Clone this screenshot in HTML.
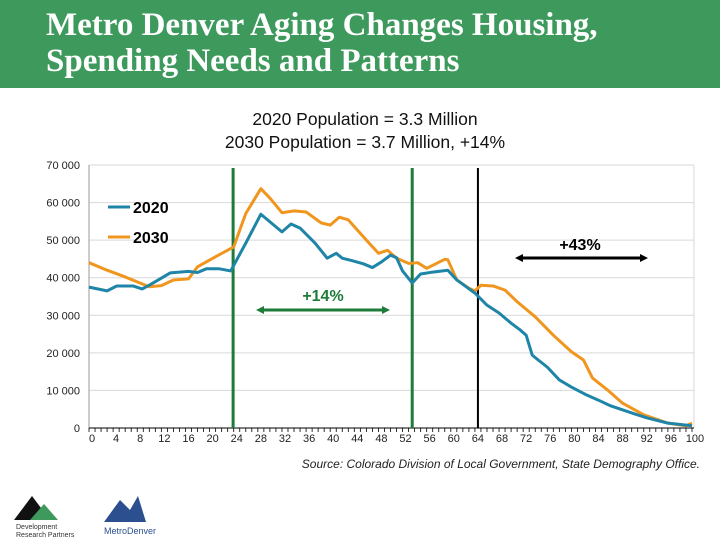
<!DOCTYPE html>
<html><head><meta charset="utf-8"><style>
body{margin:0;width:720px;height:540px;background:#fff;overflow:hidden;position:relative;font-family:"Liberation Sans",sans-serif}
#hdr{position:absolute;left:0;top:0;width:720px;height:88px;background:#3d9a5c}
#title{position:absolute;left:46px;top:7px;color:#fff;font-family:"Liberation Serif",serif;font-weight:bold;font-size:33px;line-height:36px;white-space:nowrap}
#sub{position:absolute;left:0;width:730px;top:108px;text-align:center;font-size:17.5px;line-height:23px;color:#111}
#src{position:absolute;right:20px;top:457px;font-size:12px;font-style:italic;color:#222}
</style></head><body>
<div id="hdr"></div>
<div id="title">Metro Denver Aging Changes Housing,<br>Spending Needs and Patterns</div>
<div id="sub">2020 Population = 3.3 Million<br>2030 Population = 3.7 Million, +14%</div>
<div id="src">Source: Colorado Division of Local Government, State Demography Office.</div>
<svg width="720" height="540" style="position:absolute;left:0;top:0" id="chart">
<g>
<polygon points="14,520 32,496 50,520" fill="#111"/><polygon points="30,520 44,504 58,520" fill="#3d9a5c"/>
<text x="16" y="529" font-size="7" fill="#333">Development</text><text x="16" y="537" font-size="7" fill="#333">Research Partners</text></g>
<g>
<polygon points="104,522 120,500 130,510 138,496 146,522" fill="#2b4f8f"/>
<text x="104" y="534" font-size="9" fill="#2b4f8f">MetroDenver</text></g>
</svg>
<script>
const yTicks=[0,10000,20000,30000,40000,50000,60000,70000];
const xTicks=[0,4,8,12,16,20,24,28,32,36,40,44,48,52,56,60,64,68,72,76,80,84,88,92,96,100];
const ages2020=[0,3,4.6,7.3,8.8,10,13.5,16.5,18,19.5,21.5,23.5,26,28.5,32,33.5,35,37.5,39.5,41,42,43.5,45.5,47,48.5,50,51,52,53.6,55,57,59.5,61,64,66,68,70,71.5,72.5,73.5,74.5,76,78,80,82.5,84.5,86.5,90,92.5,96,100];
const pop2020=[37500,36500,37800,37800,37000,38000,41300,41700,41400,42400,42400,41800,49200,56900,52200,54300,53200,49200,45200,46500,45200,44600,43700,42700,44200,46000,45300,41800,38600,41000,41500,42000,39400,35900,32700,30600,27900,26100,24700,19400,18100,16200,12800,10900,8800,7400,5900,4000,2700,1300,600];
const ages2030=[0,3,6,8,10,12,14,16.5,18,21,24,26,28.5,30,32,34,36,38.5,40,41.5,43,46,48,49.5,51,53,54.5,56,59,59.5,61,63,64,65,67,69,71,74,77,80,82,83.5,86,88.5,92,96,99,100];
const pop2030=[44000,42000,40200,38900,37600,37900,39400,39700,42900,45600,48200,57100,63700,61200,57300,57800,57500,54600,54000,56100,55400,50000,46500,47300,45200,43800,44000,42500,44900,44800,39400,37200,36500,38000,37800,36700,33600,29600,24700,20300,18100,13300,10100,6600,3500,1300,600,1300];
const svg=document.getElementById('chart');const NS='http://www.w3.org/2000/svg';
const X0=89,X1=692,Y0=428,Y1=165;
const sx=a=>X0+(X1-X0)*a/100, sy=v=>Y0-(Y0-Y1)*v/70000;
function mk(t,a){const e=document.createElementNS(NS,t);for(const k in a)e.setAttribute(k,a[k]);svg.appendChild(e);return e;}
yTicks.forEach(v=>{
 if(v>0){const g=mk('line',{x1:X0,x2:X1+2,y1:sy(v),y2:sy(v),stroke:'#d9d9d9','stroke-width':1});
 
 }
 const t=mk('text',{x:80,y:sy(v)+4,'text-anchor':'end','font-size':11,fill:'#222'});t.textContent=v===0?'0':(v/1000)+' 000';
 
 
});
const rb=mk('line',{x1:X1+2,x2:X1+2,y1:Y1,y2:Y0,stroke:'#d9d9d9'});


const ya=mk('line',{x1:X0,x2:X0,y1:Y1,y2:Y0,stroke:'#999'});


const xa=mk('line',{x1:X0,x2:X1+2,y1:Y0,y2:Y0,stroke:'#000'});


for(let a=0;a<=100;a++){const tk=mk('line',{x1:sx(a),x2:sx(a),y1:Y0,y2:Y0+4,stroke:'#000','stroke-width':0.8});
 
 }
xTicks.forEach(a=>{const t=mk('text',{x:sx(a)+3,y:442,'text-anchor':'middle','font-size':11,fill:'#222'});t.textContent=a;
 
 });
function vl(a,c,w,n){const l=mk('line',{x1:sx(a),x2:sx(a),y1:168,y2:Y0,stroke:c,'stroke-width':w});
 
 }
vl(23.9,'#1e7b3a',3,'marker-age-24');vl(53.6,'#1e7b3a',3,'marker-age-53');vl(64.5,'#000',2,'marker-age-64');
function series(ages,vals,c,n){const p=mk('polyline',{points:ages.map((a,i)=>sx(a)+','+sy(vals[i])).join(' '),fill:'none',stroke:c,'stroke-width':3,'stroke-linejoin':'round'});
 
 }
series(ages2030,pop2030,'#f0961e','series-2030');
series(ages2020,pop2020,'#1f85a8','series-2020');
[['2020','#1f85a8',207],['2030','#f0961e',237]].forEach(([s,c,y])=>{
 const l=mk('line',{x1:108,x2:130,y1:y,y2:y,stroke:c,'stroke-width':3});
 
 
 const t=mk('text',{x:133,y:y+6,'font-size':16,'font-weight':'bold',fill:'#000'});t.textContent=s;
 
 });
function arrow(x1,x2,y,c,n){const l=mk('line',{x1:x1+6,x2:x2-6,y1:y,y2:y,stroke:c,'stroke-width':3});
 
 
 mk('polygon',{points:`${x1},${y} ${x1+8},${y-4} ${x1+8},${y+4}`,fill:c});
 mk('polygon',{points:`${x2},${y} ${x2-8},${y-4} ${x2-8},${y+4}`,fill:c});}
arrow(256,390,310,'#1e7b3a','arrow-14pct');arrow(515,648,258,'#000','arrow-43pct');
const t1=mk('text',{x:323,y:301,'text-anchor':'middle','font-size':16,'font-weight':'bold',fill:'#1e7b3a'});t1.textContent='+14%';


const t2=mk('text',{x:580,y:250,'text-anchor':'middle','font-size':16,'font-weight':'bold',fill:'#000'});t2.textContent='+43%';


</script>
</body></html>
